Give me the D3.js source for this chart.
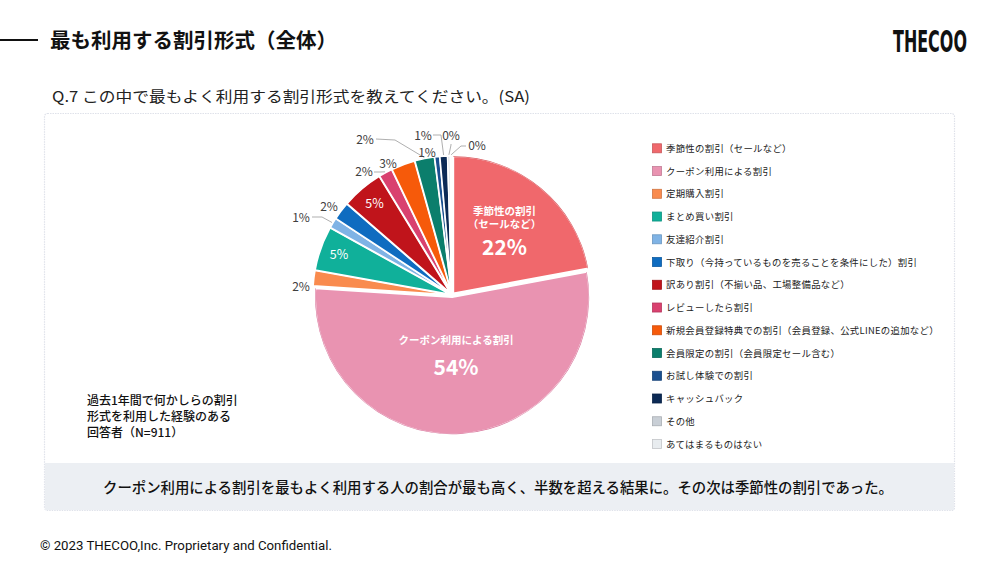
<!DOCTYPE html>
<html><head><meta charset="utf-8">
<script src="https://cdn.jsdelivr.net/npm/d3@7"></script>
<style>
html,body{margin:0;padding:0;background:#fff;}
svg text{font-family:"Noto Sans CJK JP","Noto Sans",sans-serif;}
</style></head>
<body><svg id="c" width="1000" height="563"></svg>
<script>
const categories = ["季節性の割引（セールなど）","クーポン利用による割引","定期購入割引","まとめ買い割引","友達紹介割引","下取り（今持っているものを売ることを条件にした）割引","訳あり割引（不揃い品、工場整備品など）","レビューしたら割引","新規会員登録特典での割引（会員登録、公式LINEの追加など）","会員限定の割引（会員限定セール含む）","お試し体験での割引","キャッシュバック","その他","あてはまるものはない"];
const values = [22.0,53.8,1.8,5.2,1.2,2.1,4.9,1.6,2.8,2.3,0.6,0.9,0.3,0.2];
const colors = ["#f0686c","#e993b1","#f98b4e","#10b09a","#7fb3e5","#0f6cc0","#c0141b","#d9416f","#f65a0a","#0b7e6c","#1a4f8f","#0c2a55","#c9cfd6","#e8ecef"];
const bigLabels = {0:["季節性の割引","（セールなど）"],1:["クーポン利用による割引"]};
const title = "最も利用する割引形式（全体）";
const question = "Q.7 この中で最もよく利用する割引形式を教えてください。(SA)";
const noteLines = ["過去1年間で何かしらの割引","形式を利用した経験のある","回答者（N=911）"];
const summary = "クーポン利用による割引を最もよく利用する人の割合が最も高く、半数を超える結果に。その次は季節性の割引であった。";
const footer = "© 2023 THECOO,Inc. Proprietary and Confidential.";

const svg = d3.select("#c");

// header
svg.append("line").attr("x1",0).attr("x2",38).attr("y1",40).attr("y2",40).attr("stroke","#111").attr("stroke-width",2);
svg.append("text").attr("x",50).attr("y",48).attr("font-size",20.5).attr("font-weight",700).attr("fill","#111").text(title);
const logo = svg.append("text").attr("x",0).attr("y",0).attr("font-size",30).attr("font-weight",700)
  .style("font-family","'DejaVu Sans Condensed','Liberation Sans Narrow',sans-serif").attr("fill","#111").text("THECOO");
const lw = logo.node().getComputedTextLength();
logo.attr("transform",`translate(893,52) scale(${74/lw},1)`);
svg.append("text").attr("x",52).attr("y",102).attr("font-size",15).attr("fill","#222")
  .attr("textLength",478).attr("lengthAdjust","spacingAndGlyphs").text(question);

// panel
svg.append("rect").attr("x",44.5).attr("y",113.5).attr("width",910).attr("height",397).attr("rx",3)
  .attr("fill","#fff").attr("stroke","#dfe2ea").attr("stroke-width",1.2).attr("stroke-dasharray","1.5,1");
svg.append("rect").attr("x",45).attr("y",463).attr("width",909).attr("height",47).attr("fill","#eceff3");
svg.append("text").attr("x",498).attr("y",493).attr("text-anchor","middle").attr("font-size",14.3).attr("font-weight",500).attr("fill","#111")
  .attr("textLength",790).attr("lengthAdjust","spacingAndGlyphs").text(summary);

// footer
svg.append("text").attr("x",40).attr("y",550).attr("font-size",12.5).style("font-family","Roboto,sans-serif").attr("fill","#111")
  .attr("textLength",292).attr("lengthAdjust","spacingAndGlyphs").text(footer);

// note
noteLines.forEach((t,i)=>{
  svg.append("text").attr("x",87).attr("y",405+i*16).attr("font-size",12).attr("font-weight",500).attr("fill","#111").text(t);
});

// pie
const cx=452, cy=295, R=137, explode=2.2;
const pie = d3.pie().value(d=>d).sort(null);
const arcs = pie(values);
const arc = d3.arc().innerRadius(0).outerRadius(R);
const g = svg.append("g").attr("transform",`translate(${cx},${cy})`);
const mid = d=>(d.startAngle+d.endAngle)/2;
g.selectAll("path.s").data(arcs).join("path").attr("class","s")
  .attr("d",arc)
  .attr("transform",d=>`translate(${Math.sin(mid(d))*explode},${-Math.cos(mid(d))*explode})`)
  .attr("fill",(d,i)=>colors[i])
  .attr("stroke","#fff").attr("stroke-width",1.6).attr("stroke-linejoin","round");
g.selectAll("path.e").data(arcs.slice(0,2)).join("path").attr("class","e")
  .attr("d",d3.arc().innerRadius(R-0.6).outerRadius(R))
  .attr("transform",d=>`translate(${Math.sin(mid(d))*explode},${-Math.cos(mid(d))*explode})`)
  .attr("fill",(d,i)=>i===0?"#d9545a":"#d9739a");

const pol=(a,r)=>[Math.sin(a)*r,-Math.cos(a)*r];
const pct = v=>Math.round(v)+"%";

// big labels
[0,1].forEach(i=>{
  const d=arcs[i];
  const rr = i===0?0.6*R:0.5*R;
  const [x,y]=pol(mid(d),rr);
  const lines=bigLabels[i];
  const off = i===0?[-17,-3.5]:[-19];
  lines.forEach((t,k)=>g.append("text").attr("x",x).attr("y",y+off[k]).attr("text-anchor","middle")
     .attr("font-size",10.5).attr("font-weight",700).attr("fill","#fff").text(t));
  g.append("text").attr("x",x).attr("y",y+(i===0?23:12)).attr("text-anchor","middle")
     .attr("font-size",21).attr("font-weight",700).attr("fill","#fff").text(pct(values[i]));
});

// inside small labels
[3,6].forEach(i=>{
  const [x,y]=pol(mid(arcs[i]),0.875*R);
  g.append("text").attr("x",x).attr("y",y+4.5).attr("text-anchor","middle").attr("font-size",12.5).attr("fill","#fff").text(pct(values[i]));
});

// outside labels: offsets (label centre) from pie centre, and leader elbows
const outside = {
  2:{dx:-151,dy:-9},
  4:{dx:-151,dy:-78,leader:[[-140,-78],[-130,-78]]},
  5:{dx:-123,dy:-89},
  7:{dx:-88,dy:-124,leader:[[-78,-123],[-72,-123]]},
  8:{dx:-64,dy:-132},
  9:{dx:-87,dy:-156,leader:[[-76,-156],[-57,-155]]},
  10:{dx:-25,dy:-143},
  11:{dx:-29,dy:-160,leader:[[-19,-160],[-11,-160]]},
  12:{dx:-1,dy:-160,leader:[[-1,-151],[-1,-150]]},
  13:{dx:25,dy:-150,leader:[[14,-149],[9,-149]]}
};
Object.entries(outside).forEach(([k,o])=>{
  const i=+k, d=arcs[i];
  if(o.leader){
    const rim=pol(mid(d),R+explode+1);
    const pts=[...o.leader,rim];
    g.append("path").attr("d",d3.line()(pts)).attr("fill","none").attr("stroke","#a6a6a6").attr("stroke-width",0.9);
  }
  g.append("text").attr("x",o.dx).attr("y",o.dy+4.5).attr("text-anchor","middle").attr("font-size",12).attr("fill","#404040").text(pct(values[i]));
});

// legend
const ly = d3.scalePoint().domain(d3.range(categories.length)).range([148.3,444]);
const lg = svg.append("g");
categories.forEach((c,i)=>{
  lg.append("rect").attr("x",652.5).attr("y",ly(i)-4.5).attr("width",9).attr("height",9)
    .attr("fill",colors[i]).attr("stroke",d3.color(colors[i]).darker(0.5)).attr("stroke-width",0.8);
  lg.append("text").attr("x",666).attr("y",ly(i)+3.5).attr("font-size",9.4).attr("letter-spacing",0.3).attr("fill","#222").text(c);
});
</script></body></html>
